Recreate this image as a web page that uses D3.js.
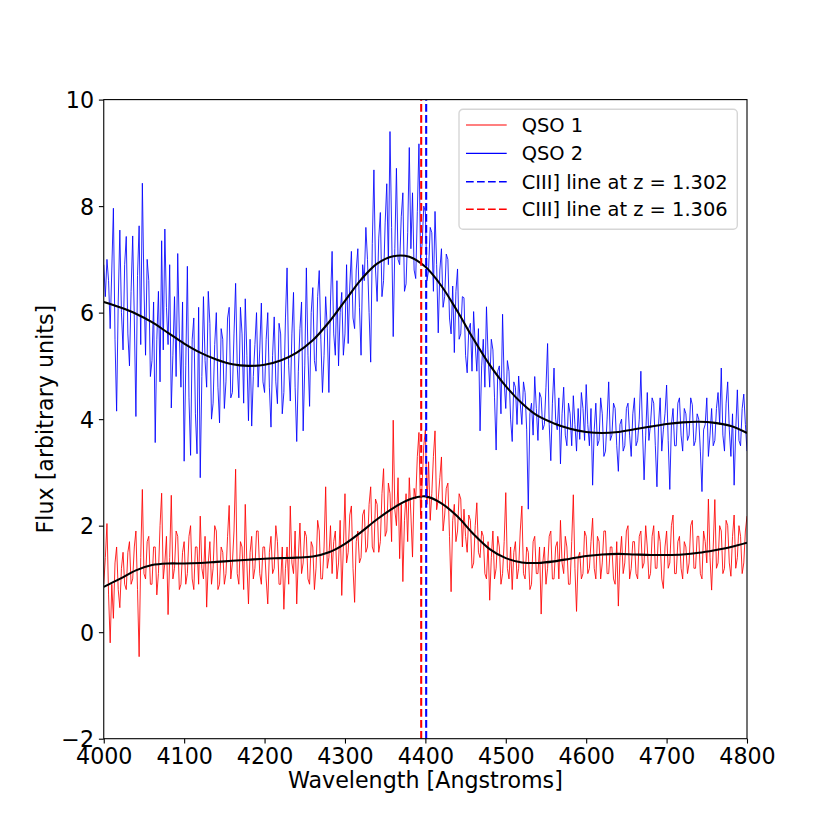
<!DOCTYPE html>
<html>
<head>
<meta charset="utf-8">
<script src="https://cdn.jsdelivr.net/npm/d3@7"></script>
<style>
body { margin: 0; background: #fff; }
text { font-family: "DejaVu Sans", sans-serif; fill: #000; }
</style>
</head>
<body>
<div id="chart"></div>
<script>
// spectra sampled every 2 Angstroms, 4000..4800
const wavelength = d3.range(4000, 4801, 2);

const qso1Flux = [
  0.9, 1.4, 2.04, 0.7, -0.2, 0.9, 0.26, 1.3, 1.6, 0.8, 0.46, 1.2, 1.5, 0.9, 0.8, 1.5, 1.7, 0.9, 1.0, 1.6,
  1.9, 0.8, -0.46, 1.4, 2.68, 1.1, 1.0, 1.7, 1.8, 0.9, 0.9, 1.6, 1.6, 0.7, 1.1, 2.0, 2.61, 1.0, 1.3, 1.8,
  0.33, 1.4, 2.57, 1.0, 1.2, 1.9, 1.8, 0.8, 0.9, 1.5, 1.7, 0.9, 1.1, 1.8, 2.0, 1.0, 0.8, 1.6, 1.6, 0.9,
  2.18, 1.2, 1.0, 1.8, 0.47, 1.3, 1.7, 0.9, 1.2, 2.0, 1.9, 0.8, 0.9, 1.6, 1.5, 0.9, 1.1, 1.8, 2.38, 1.0,
  1.3, 1.9, 3.06, 1.1, 0.9, 1.7, 1.6, 0.8, 2.4, 1.3, 0.53, 1.5, 1.8, 1.0, 1.2, 1.9, 1.9, 1.1, 0.9, 1.6,
  1.6, 1.0, 0.53, 1.5, 1.8, 1.1, 1.2, 2.0, 1.7, 0.9, 0.9, 1.6, 0.43, 1.2, 1.6, 0.9, 2.37, 1.3, 1.1, 1.9,
  0.53, 1.4, 2.05, 1.1, 1.3, 1.9, 1.8, 1.0, 0.9, 1.7, 1.6, 0.8, 1.2, 2.1, 1.9, 1.0, 1.0, 1.6, 2.73, 1.2,
  1.4, 2.0, 1.1, 1.7, 1.9, 1.0, 1.3, 2.1, 0.69, 1.6, 2.6, 1.3, 1.5, 2.2, 2.37, 1.2, 0.56, 1.7, 1.9, 1.3,
  1.4, 2.2, 2.3, 1.5, 1.6, 2.4, 2.73, 1.6, 1.5, 2.5, 2.4, 1.5, 1.7, 2.6, 3.07, 1.8, 1.9, 2.8, 2.6, 1.7,
  3.98, 2.3, 2.0, 2.9, 1.38, 2.4, 0.95, 2.1, 2.6, 1.7, 2.9, 2.2, 1.41, 2.7, 2.5, 3.3, 3.75, 2.2, 2.8, 3.5,
  3.8, 2.4, 3.2, 2.1, 2.6, 3.3, 3.78, 2.3, 2.5, 2.9, 3.29, 1.9, 2.2, 2.7, 2.8, 1.8, 0.76, 2.1, 2.4, 1.7,
  1.9, 2.6, 2.5, 1.6, 2.31, 1.8, 1.5, 2.2, 2.1, 1.2, 1.3, 2.0, 2.43, 1.5, 1.4, 1.9, 1.8, 1.1, 1.0, 1.7,
  0.6, 1.4, 1.9, 1.0, 1.2, 1.8, 1.6, 0.9, 1.1, 1.7, 2.62, 1.2, 1.0, 1.6, 0.8, 1.5, 1.7, 1.0, 1.2, 1.9,
  2.37, 1.1, 1.0, 1.6, 1.5, 0.8, 0.9, 1.7, 1.8, 1.1, 1.1, 1.6, 0.34, 1.3, 1.6, 0.9, 1.2, 1.8, 1.9, 1.0,
  1.0, 1.6, 1.7, 1.0, 2.1, 1.3, 1.1, 1.8, 1.6, 0.9, 0.9, 1.7, 2.58, 1.2, 0.39, 1.4, 1.5, 1.0, 1.1, 1.9,
  1.8, 1.1, 1.2, 1.7, 2.14, 1.2, 1.0, 1.8, 1.7, 1.0, 1.3, 1.9, 1.9, 1.1, 1.1, 1.6, 1.6, 1.0, 0.9, 1.7,
  0.49, 1.4, 1.8, 1.1, 1.3, 1.9, 2.0, 1.0, 1.2, 1.7, 1.7, 1.1, 1.0, 1.8, 1.9, 1.2, 1.3, 2.0, 1.6, 1.0,
  1.1, 1.8, 2.0, 1.2, 1.2, 1.9, 1.7, 1.0, 0.82, 1.6, 1.9, 1.2, 1.3, 2.0, 2.2, 1.1, 1.1, 1.7, 1.8, 1.2,
  1.0, 1.7, 1.6, 1.1, 1.3, 2.0, 2.1, 1.2, 1.2, 1.8, 1.8, 1.1, 1.0, 1.9, 1.7, 1.3, 2.5, 1.4, 0.79, 1.6,
  2.49, 1.2, 1.3, 2.0, 1.9, 1.1, 1.2, 2.1, 2.0, 1.3, 1.05, 1.8, 2.2, 1.2, 1.4, 2.0, 1.8, 1.1, 1.3, 1.9,
  2.18
];

const qso2Flux = [
  6.9, 6.3, 7.0, 6.6, 5.7, 6.8, 7.96, 5.5, 4.15, 6.2, 7.55, 6.0, 5.3, 6.9, 7.43, 5.6, 5.0, 6.4, 7.44, 5.9,
  4.05, 6.7, 7.63, 5.4, 8.43, 6.5, 5.2, 7.0, 6.6, 4.8, 5.1, 6.2, 3.56, 5.5, 6.4, 4.7, 7.35, 5.3, 7.57, 6.1,
  5.4, 6.9, 4.21, 5.2, 6.3, 4.8, 7.11, 5.6, 4.6, 6.2, 3.21, 5.0, 6.87, 4.4, 3.32, 5.5, 5.9, 4.1, 3.35, 6.1,
  2.9, 4.8, 6.3, 5.1, 4.6, 6.4, 5.8, 4.0, 4.3, 5.4, 6.0, 4.6, 3.93, 5.7, 5.5, 4.2, 4.7, 5.9, 6.1, 4.4,
  4.5, 5.6, 6.55, 5.0, 4.4, 6.1, 5.6, 4.3, 6.26, 5.2, 3.97, 5.5, 3.87, 4.8, 5.4, 6.0, 4.6, 5.3, 6.18, 4.7,
  4.5, 5.5, 6.0, 4.6, 3.85, 5.2, 5.92, 4.7, 4.29, 5.8, 5.6, 4.1, 4.5, 5.9, 6.84, 5.0, 4.34, 5.6, 6.38, 4.6,
  3.58, 4.9, 5.7, 6.2, 3.78, 5.0, 6.84, 5.2, 4.24, 6.0, 6.47, 5.1, 4.9, 6.3, 6.79, 5.5, 4.5, 5.2, 6.3, 5.7,
  4.5, 6.2, 7.15, 5.6, 5.2, 6.6, 5.0, 6.0, 6.38, 5.2, 5.6, 6.9, 5.42, 6.5, 7.15, 5.9, 5.7, 6.8, 7.2, 6.1,
  5.2, 6.9, 6.6, 7.6, 7.0, 6.0, 5.07, 7.3, 8.68, 6.8, 6.21, 7.4, 7.88, 6.3, 6.6, 7.7, 8.42, 6.9, 9.4, 7.6,
  5.55, 7.2, 8.71, 7.0, 6.9, 7.8, 8.25, 6.4, 6.54, 7.5, 9.1, 7.2, 8.25, 6.8, 6.64, 7.9, 9.17, 7.0, 7.3, 8.0,
  7.89, 6.6, 6.8, 7.6, 7.5, 6.4, 7.9, 6.9, 5.62, 6.8, 7.2, 6.1, 6.3, 7.1, 7.0, 5.9, 5.6, 6.5, 5.25, 6.4,
  6.82, 5.5, 5.6, 6.3, 6.28, 5.2, 4.87, 5.7, 5.8, 4.9, 6.02, 5.4, 4.9, 5.7, 3.78, 5.0, 5.5, 4.6, 6.11, 5.2,
  4.6, 5.5, 5.3, 4.4, 3.42, 4.9, 5.0, 4.1, 5.97, 4.7, 4.2, 5.1, 4.9, 4.0, 3.58, 4.7, 4.6, 3.9, 4.81, 4.3,
  3.9, 4.7, 4.5, 3.8, 2.31, 4.1, 4.3, 3.7, 4.8, 4.2, 3.6, 4.5, 4.4, 3.8, 3.9, 4.6, 5.42, 3.9, 3.22, 4.3,
  4.96, 4.0, 3.8, 4.4, 3.16, 4.1, 4.6, 3.7, 3.5, 4.3, 4.1, 3.5, 4.44, 3.9, 3.4, 4.2, 3.62, 4.5, 4.2, 3.6,
  4.65, 3.9, 3.5, 4.2, 2.76, 3.8, 4.3, 3.5, 3.6, 4.4, 4.1, 3.3, 3.4, 4.0, 4.7, 3.6, 3.7, 4.3, 4.2, 3.5,
  3.02, 3.9, 4.0, 3.4, 3.5, 4.2, 4.3, 3.7, 3.3, 4.1, 4.4, 3.5, 3.6, 4.0, 4.9, 3.8, 2.86, 3.7, 4.5, 3.6,
  3.9, 4.4, 4.3, 3.5, 2.73, 3.9, 4.4, 3.4, 3.8, 4.1, 4.64, 3.6, 2.68, 3.9, 4.2, 3.5, 3.5, 4.3, 4.4, 3.7,
  3.4, 4.2, 4.1, 3.6, 3.7, 4.4, 4.27, 3.5, 3.6, 4.1, 4.0, 3.4, 2.64, 3.8, 3.9, 4.4, 3.3, 3.7, 4.2, 3.5,
  3.6, 4.2, 4.5, 3.9, 4.96, 3.7, 3.4, 4.3, 4.7, 3.8, 3.3, 4.1, 2.76, 3.8, 4.55, 3.6, 3.5, 4.2, 4.47, 3.9,
  3.4
];

// smoothed fits, every 20 Angstroms
const smoothWavelength = d3.range(4000, 4801, 20);

const qso1Smooth = [
  0.85, 1.00, 1.16, 1.26, 1.29, 1.29, 1.30, 1.32, 1.34, 1.36,
  1.38, 1.39, 1.40, 1.42, 1.50, 1.66, 1.88, 2.12, 2.33, 2.49,
  2.55, 2.42, 2.17, 1.84, 1.56, 1.39, 1.31, 1.30, 1.33, 1.38,
  1.43, 1.46, 1.47, 1.46, 1.45, 1.45, 1.46, 1.49, 1.54, 1.60,
  1.68
];

const qso2Smooth = [
  6.20, 6.10, 5.98, 5.82, 5.62, 5.42, 5.25, 5.12, 5.03, 5.00,
  5.02, 5.10, 5.25, 5.48, 5.82, 6.22, 6.62, 6.92, 7.06, 7.05,
  6.86, 6.50, 6.02, 5.50, 5.02, 4.62, 4.30, 4.06, 3.92, 3.82,
  3.76, 3.74, 3.76, 3.81, 3.86, 3.91, 3.94, 3.95, 3.93, 3.87,
  3.74
];

// CIII] line positions as drawn: blue is z = 1.302, red is z = 1.306
const ciiiWavelength = [4401.0, 4394.8];

const xTicks = [4000, 4100, 4200, 4300, 4400, 4500, 4600, 4700, 4800];
const yTicks = [-2, 0, 2, 4, 6, 8, 10];
const legendLabels = ['QSO 1', 'QSO 2', 'CIII] line at z = 1.302', 'CIII] line at z = 1.306'];

const config = {
  width: 830,
  height: 830,
  margin: [99.6, 83, 91.3, 103.75],   // top right bottom left
  tickFont: 22.2,
  legendFont: 19.44,
  spectrumWidth: 0.85,
  smoothWidth: 2.08,
  dashWidth: 2.08,
  dash: '7.7,3.3'
};
config.plotW = config.width - config.margin[1] - config.margin[3];
config.plotH = config.height - config.margin[0] - config.margin[2];

const svg = d3.select('#chart')
  .append('svg')
  .attr('width', config.width)
  .attr('height', config.height);

svg.append('rect')
  .attr('width', config.width)
  .attr('height', config.height)
  .attr('fill', '#fff');

const chart = svg.append('g')
  .attr('transform', `translate(${config.margin[3]}, ${config.margin[0]})`);

const scaleX = d3.scaleLinear().domain([4000, 4800]).range([0, config.plotW]);
const scaleY = d3.scaleLinear().domain([-2, 10]).range([config.plotH, 0]);

chart.append('clipPath')
  .attr('id', 'plot-clip')
  .append('rect')
  .attr('width', config.plotW)
  .attr('height', config.plotH);

const plot = chart.append('g').attr('clip-path', 'url(#plot-clip)');

const line = d3.line()
  .x(d => scaleX(d[0]))
  .y(d => scaleY(d[1]));

const smoothLine = d3.line()
  .x(d => scaleX(d[0]))
  .y(d => scaleY(d[1]))
  .curve(d3.curveCatmullRom.alpha(0.5));

const spectra = [
  {flux: qso1Flux, color: '#ff0000'},
  {flux: qso2Flux, color: '#0000ff'}
];

spectra.forEach(s => {
  plot.append('path')
    .datum(wavelength.map((w, i) => [w, s.flux[i]]))
    .attr('fill', 'none')
    .attr('stroke', s.color)
    .attr('stroke-width', config.spectrumWidth)
    .attr('stroke-linejoin', 'round')
    .attr('d', line);
});

[qso1Smooth, qso2Smooth].forEach(fit => {
  plot.append('path')
    .datum(smoothWavelength.map((w, i) => [w, fit[i]]))
    .attr('fill', 'none')
    .attr('stroke', '#000')
    .attr('stroke-width', config.smoothWidth)
    .attr('d', smoothLine);
});

const lineColors = ['#0000ff', '#ff0000'];
plot.selectAll('.ciii-line')
  .data(ciiiWavelength)
  .enter()
  .append('line')
  .attr('class', 'ciii-line')
  .attr('x1', d => scaleX(d))
  .attr('x2', d => scaleX(d))
  .attr('y1', config.plotH)
  .attr('y2', 0)
  .attr('stroke', (d, i) => lineColors[i])
  .attr('stroke-width', config.dashWidth)
  .attr('stroke-dasharray', config.dash);

// axes
const fmt = d => d < 0 ? '\u2212' + Math.abs(d) : String(d);

const xAxis = d3.axisBottom(scaleX)
  .tickValues(xTicks)
  .tickFormat(fmt)
  .tickSize(4.86)
  .tickPadding(4.86);

const yAxis = d3.axisLeft(scaleY)
  .tickValues(yTicks)
  .tickFormat(fmt)
  .tickSize(4.86)
  .tickPadding(4.86);

const gx = chart.append('g')
  .attr('transform', `translate(0, ${config.plotH})`)
  .call(xAxis);

const gy = chart.append('g').call(yAxis);

[gx, gy].forEach(g => {
  g.select('.domain').remove();
  g.selectAll('line').attr('stroke', '#000').attr('stroke-width', 1.1);
  g.selectAll('text')
    .style('font-size', config.tickFont + 'px')
    .style('font-family', '"DejaVu Sans", sans-serif')
    .attr('fill', '#000');
});
gy.selectAll('text').attr('dy', '0.36em');

chart.append('rect')
  .attr('width', config.plotW)
  .attr('height', config.plotH)
  .attr('fill', 'none')
  .attr('stroke', '#000')
  .attr('stroke-width', 1.1);

svg.append('text')
  .attr('x', config.margin[3] + config.plotW / 2)
  .attr('y', 788)
  .attr('text-anchor', 'middle')
  .style('font-size', config.tickFont + 'px')
  .text('Wavelength [Angstroms]');

svg.append('text')
  .attr('transform', `translate(53, ${config.margin[0] + config.plotH / 2}) rotate(-90)`)
  .attr('text-anchor', 'middle')
  .style('font-size', config.tickFont + 'px')
  .text('Flux [arbitrary units]');

// legend
const legend = svg.append('g').attr('transform', 'translate(459, 109.3)');

legend.append('rect')
  .attr('width', 278.3)
  .attr('height', 120)
  .attr('rx', 4)
  .attr('ry', 4)
  .attr('fill', '#fff')
  .attr('fill-opacity', 0.8)
  .attr('stroke', '#d6d6d6')
  .attr('stroke-width', 1.39);

const legendStyles = [
  {color: '#ff0000', dash: null, width: 1.2},
  {color: '#0000ff', dash: null, width: 1.2},
  {color: '#0000ff', dash: config.dash, width: 1.5},
  {color: '#ff0000', dash: config.dash, width: 1.5}
];
const rowY = [15.7, 44, 72.4, 100];

legendLabels.forEach((label, i) => {
  legend.append('line')
    .attr('x1', 7)
    .attr('x2', 47.7)
    .attr('y1', rowY[i])
    .attr('y2', rowY[i])
    .attr('stroke', legendStyles[i].color)
    .attr('stroke-width', legendStyles[i].width)
    .attr('stroke-dasharray', legendStyles[i].dash);
  legend.append('text')
    .attr('x', 62.7)
    .attr('y', rowY[i] + 7.2)
    .style('font-size', config.legendFont + 'px')
    .text(label);
});
</script>
</body>
</html>
